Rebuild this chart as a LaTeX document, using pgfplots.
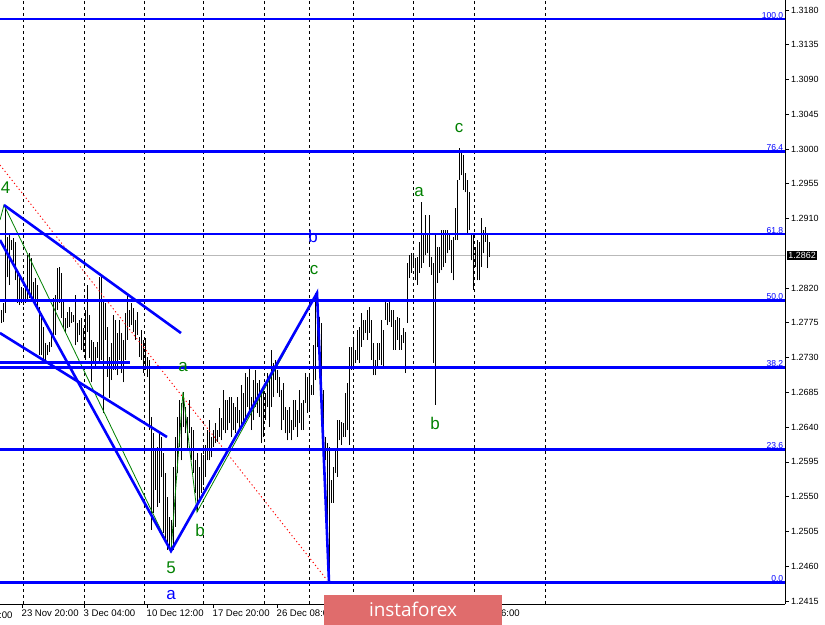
\documentclass[border=0pt]{standalone}
\usepackage{fontspec}
\setmainfont{Liberation Sans}
\newfontfamily\logofont{Open Sans}
\usepackage{pgfplots}
\usepackage{pgfplotstable}
\pgfplotsset{compat=1.18}

\definecolor{wavegreen}{RGB}{0,128,0}
\definecolor{fibblue}{RGB}{0,0,255}
\definecolor{logored}{RGB}{224,108,108}

% bar highs and lows (x = bar position along the time axis)
\pgfplotstableread{
x hi lo
1 1.2792 1.2775
3 1.2801 1.2776
5 1.2928 1.2788
7 1.2886 1.2834
9 1.2889 1.2824
11 1.2882 1.2869
13 1.2885 1.2854
15 1.2880 1.2830
17 1.2840 1.2801
19 1.2840 1.2798
21 1.2821 1.2801
23 1.2820 1.2798
25 1.2820 1.2801
27 1.2863 1.2802
29 1.2865 1.2807
31 1.2859 1.2802
33 1.2828 1.2802
35 1.2833 1.2798
37 1.2824 1.2794
39 1.2796 1.2733
41 1.2788 1.2733
43 1.2770 1.2724
45 1.2749 1.2727
47 1.2746 1.2733
49 1.2750 1.2737
51 1.2762 1.2744
53 1.2807 1.2755
55 1.2811 1.2759
57 1.2846 1.2792
59 1.2847 1.2801
61 1.2840 1.2781
63 1.2802 1.2768
65 1.2781 1.2763
67 1.2789 1.2768
69 1.2796 1.2770
71 1.2789 1.2775
73 1.2785 1.2776
75 1.2811 1.2746
77 1.2775 1.2750
79 1.2779 1.2759
81 1.2781 1.2740
83 1.2768 1.2737
85 1.2792 1.2727
87 1.2824 1.2763
89 1.2785 1.2730
91 1.2753 1.2698
93 1.2750 1.2724
95 1.2744 1.2717
97 1.2750 1.2730
99 1.2834 1.2724
101 1.2837 1.2727
103 1.2802 1.2658
105 1.2801 1.2753
107 1.2770 1.2705
109 1.2731 1.2678
111 1.2749 1.2701
113 1.2785 1.2714
115 1.2779 1.2714
117 1.2762 1.2707
119 1.2779 1.2727
121 1.2762 1.2710
123 1.2753 1.2698
125 1.2788 1.2727
127 1.2811 1.2753
129 1.2792 1.2770
131 1.2801 1.2772
133 1.2794 1.2763
135 1.2779 1.2753
137 1.2789 1.2759
139 1.2757 1.2731
141 1.2766 1.2727
143 1.2753 1.2710
145 1.2755 1.2714
147 1.2731 1.2705
149 1.2727 1.2636
151 1.2653 1.2507
153 1.2632 1.2529
155 1.2610 1.2559
157 1.2614 1.2537
159 1.2632 1.2542
161 1.2627 1.2576
163 1.2607 1.2503
165 1.2581 1.2490
167 1.2550 1.2481
169 1.2524 1.2485
171 1.2520 1.2481
173 1.2588 1.2481
175 1.2627 1.2511
177 1.2653 1.2581
179 1.2675 1.2614
181 1.2671 1.2597
183 1.2686 1.2640
185 1.2666 1.2632
187 1.2653 1.2610
189 1.2675 1.2632
191 1.2640 1.2597
193 1.2636 1.2581
195 1.2597 1.2555
197 1.2607 1.2530
199 1.2588 1.2546
201 1.2607 1.2555
203 1.2604 1.2565
205 1.2617 1.2576
207 1.2636 1.2597
209 1.2649 1.2597
211 1.2627 1.2601
213 1.2636 1.2614
215 1.2645 1.2619
217 1.2636 1.2621
219 1.2665 1.2627
221 1.2652 1.2623
223 1.2688 1.2636
225 1.2675 1.2632
227 1.2675 1.2636
229 1.2679 1.2645
231 1.2679 1.2627
233 1.2671 1.2636
235 1.2666 1.2632
237 1.2679 1.2645
239 1.2662 1.2636
241 1.2695 1.2640
243 1.2684 1.2645
245 1.2710 1.2649
247 1.2705 1.2666
249 1.2718 1.2658
251 1.2679 1.2636
253 1.2701 1.2649
255 1.2714 1.2666
257 1.2697 1.2658
259 1.2701 1.2653
261 1.2684 1.2619
263 1.2688 1.2627
265 1.2684 1.2649
267 1.2710 1.2666
269 1.2705 1.2640
271 1.2740 1.2666
273 1.2723 1.2679
275 1.2727 1.2701
277 1.2714 1.2684
279 1.2705 1.2679
281 1.2688 1.2636
283 1.2697 1.2649
285 1.2666 1.2632
287 1.2662 1.2623
289 1.2666 1.2632
291 1.2649 1.2623
293 1.2675 1.2636
295 1.2675 1.2640
297 1.2662 1.2627
299 1.2688 1.2645
301 1.2671 1.2636
303 1.2675 1.2636
305 1.2710 1.2671
307 1.2705 1.2658
309 1.2710 1.2662
311 1.2694 1.2682
313 1.2746 1.2682
315 1.2814 1.2701
317 1.2814 1.2744
319 1.2783 1.2731
321 1.2775 1.2688
323 1.2688 1.2627
325 1.2627 1.2597
327 1.2619 1.2472
329 1.2614 1.2440
331 1.2572 1.2542
333 1.2588 1.2542
335 1.2610 1.2581
337 1.2649 1.2576
339 1.2649 1.2623
341 1.2647 1.2617
343 1.2645 1.2627
345 1.2684 1.2627
347 1.2697 1.2636
349 1.2744 1.2617
351 1.2744 1.2714
353 1.2753 1.2717
355 1.2740 1.2723
357 1.2766 1.2727
359 1.2770 1.2723
361 1.2788 1.2744
363 1.2779 1.2753
365 1.2779 1.2762
367 1.2792 1.2753
369 1.2796 1.2762
371 1.2779 1.2727
373 1.2749 1.2707
375 1.2727 1.2707
377 1.2749 1.2718
379 1.2749 1.2727
381 1.2779 1.2720
383 1.2766 1.2718
385 1.2802 1.2779
387 1.2801 1.2772
389 1.2802 1.2776
391 1.2792 1.2770
393 1.2792 1.2740
395 1.2779 1.2740
397 1.2783 1.2753
399 1.2781 1.2740
401 1.2759 1.2740
403 1.2768 1.2749
405 1.2763 1.2710
407 1.2853 1.2775
409 1.2863 1.2833
411 1.2865 1.2840
413 1.2863 1.2847
415 1.2859 1.2830
417 1.2860 1.2824
419 1.2880 1.2840
421 1.2931 1.2846
423 1.2889 1.2853
425 1.2915 1.2863
427 1.2891 1.2865
429 1.2915 1.2847
431 1.2860 1.2837
433 1.2853 1.2723
435 1.2889 1.2669
437 1.2873 1.2827
439 1.2873 1.2840
441 1.2895 1.2843
443 1.2895 1.2847
445 1.2895 1.2853
447 1.2895 1.2865
449 1.2891 1.2869
451 1.2882 1.2840
453 1.2886 1.2830
455 1.2924 1.2882
457 1.2960 1.2882
459 1.3001 1.2960
461 1.2996 1.2966
463 1.2992 1.2947
465 1.2969 1.2944
467 1.2960 1.2889
469 1.2944 1.2895
471 1.2891 1.2856
473 1.2891 1.2818
475 1.2873 1.2847
477 1.2882 1.2830
479 1.2880 1.2830
481 1.2911 1.2847
483 1.2895 1.2865
485 1.2899 1.2880
487 1.2891 1.2846
489 1.2880 1.2860
}\bars

\begin{document}
\begin{tikzpicture}
\begin{axis}[
  at={(0,0)}, anchor=south west,
  scale only axis, width=785bp, height=604bp,
  xmin=0, xmax=785, ymin=1.241106, ymax=1.319294,
  axis x line*=bottom, axis y line*=right,
  axis line style={black, line width=0.8bp, -},
  tick align=outside, major tick length=4bp,
  tick style={black, line width=0.8bp},
  ytick={1.3180,1.3135,1.3090,1.3045,1.3000,1.2955,1.2910,1.2820,1.2775,1.2730,1.2685,1.2640,1.2595,1.2550,1.2505,1.2460,1.2415},
  yticklabels={1.3180,1.3135,1.3090,1.3045,1.3000,1.2955,1.2910,1.2820,1.2775,1.2730,1.2685,1.2640,1.2595,1.2550,1.2505,1.2460,1.2415},
  yticklabel style={font=\fontsize{9}{10}\selectfont, anchor=west, inner sep=2bp},
  xtick={22,84,147,213,277,470},
  xticklabels={23 Nov 20:00,3 Dec 04:00,10 Dec 12:00,17 Dec 20:00,26 Dec 08:00,8 Jan 16:00},
  xticklabel style={font=\fontsize{9.6}{10}\selectfont, anchor=north west, inner sep=1bp, xshift=-1.5bp, yshift=-1bp},
  extra x ticks={23,84,144,203,264,309,353,413,474,545},
  extra x tick labels={},
  extra x tick style={grid=major, major tick length=0pt},
  major grid style={black, line width=0.8bp, dash pattern=on 3bp off 3bp},
  extra y ticks={1.2862},
  extra y tick labels={1.2862},
  extra y tick style={major tick length=0pt, yticklabel style={fill=black, text=white, inner sep=1.2bp, xshift=2bp}},
]
% current price line
\addplot[gray!55, line width=0.7bp] coordinates {(0,1.2862) (785,1.2862)};

% price bars: high-low ranges
\addplot[draw=none, mark=none,
  error bars/.cd, y dir=plus, y explicit, error mark=none,
  error bar style={draw=black, solid, line width=0.85bp}]
  table[x=x, y=lo, y error expr=\thisrow{hi}-\thisrow{lo}] {\bars};

% red dotted trend line
\addplot[red, line width=0.9bp, dash pattern=on 1.2bp off 2.6bp] coordinates {(0,1.29793) (327,1.24421)};

% green wave lines
\addplot[wavegreen, line width=0.8bp] coordinates {(0,1.29081) (4,1.29275) (171,1.24797) (183,1.26855) (197,1.25301) (317,1.28136)};

% Fibonacci levels
\addplot[fibblue, line width=2.6bp] coordinates {(0,1.31683) (785,1.31683)};
\addplot[fibblue, line width=2.6bp] coordinates {(0,1.29966) (785,1.29966)};
\addplot[fibblue, line width=2.6bp] coordinates {(0,1.28900) (785,1.28900)};
\addplot[fibblue, line width=2.6bp] coordinates {(0,1.28037) (785,1.28037)};
\addplot[fibblue, line width=2.6bp] coordinates {(0,1.27170) (785,1.27170)};
\addplot[fibblue, line width=2.6bp] coordinates {(0,1.26108) (785,1.26108)};
\addplot[fibblue, line width=2.6bp] coordinates {(0,1.24386) (785,1.24386)};

% short level and channel
\addplot[fibblue, line width=2.6bp] coordinates {(0,1.27234) (130,1.27234)};
\addplot[fibblue, line width=2.6bp] coordinates {(4,1.29275) (181,1.27618)};
\addplot[fibblue, line width=2.6bp] coordinates {(0,1.27618) (167,1.26272)};

% blue wave lines
\addplot[fibblue, line width=2.6bp] coordinates {(0,1.28822) (171,1.24797) (317,1.28136) (329,1.24395)};

% level labels
\begin{scope}[every node/.style={anchor=south east, text=fibblue, font=\fontsize{8.6}{9}\selectfont, inner sep=0.6bp}]
\node at (axis cs:784,1.31683) {100.0};
\node at (axis cs:784,1.29966) {76.4};
\node at (axis cs:784,1.28900) {61.8};
\node at (axis cs:784,1.28037) {50.0};
\node at (axis cs:784,1.27170) {38.2};
\node at (axis cs:784,1.26108) {23.6};
\node at (axis cs:784,1.24386) {0.0};
\end{scope}

% wave labels
\begin{scope}[every node/.style={font=\fontsize{17}{17}\selectfont, inner sep=0}]
\node[text=wavegreen] at (axis cs:5.5,1.29495) {4};
\node[text=fibblue] at (axis cs:313,1.28874) {b};
\node[text=wavegreen] at (axis cs:314,1.28434) {c};
\node[text=wavegreen] at (axis cs:183,1.27178) {a};
\node[text=wavegreen] at (axis cs:200,1.25069) {b};
\node[text=wavegreen] at (axis cs:171,1.24576) {5};
\node[text=fibblue] at (axis cs:171,1.24227) {a};
\node[text=wavegreen] at (axis cs:419,1.29443) {a};
\node[text=wavegreen] at (axis cs:459,1.30272) {c};
\node[text=wavegreen] at (axis cs:435,1.26454) {b};
\end{scope}
\end{axis}

\node[anchor=west, inner sep=0, font=\fontsize{9.6}{10}\selectfont] at (-1bp,-11bp) {:00};
\fill[logored] (324bp,-21bp) rectangle (502bp,9bp);
\node[text=white, font=\logofont\fontsize{19}{19}\selectfont] at (413bp,-5bp) {instaforex};

\pgfresetboundingbox
\useasboundingbox (0,-21bp) rectangle (825bp,604bp);
\end{tikzpicture}
\end{document}
